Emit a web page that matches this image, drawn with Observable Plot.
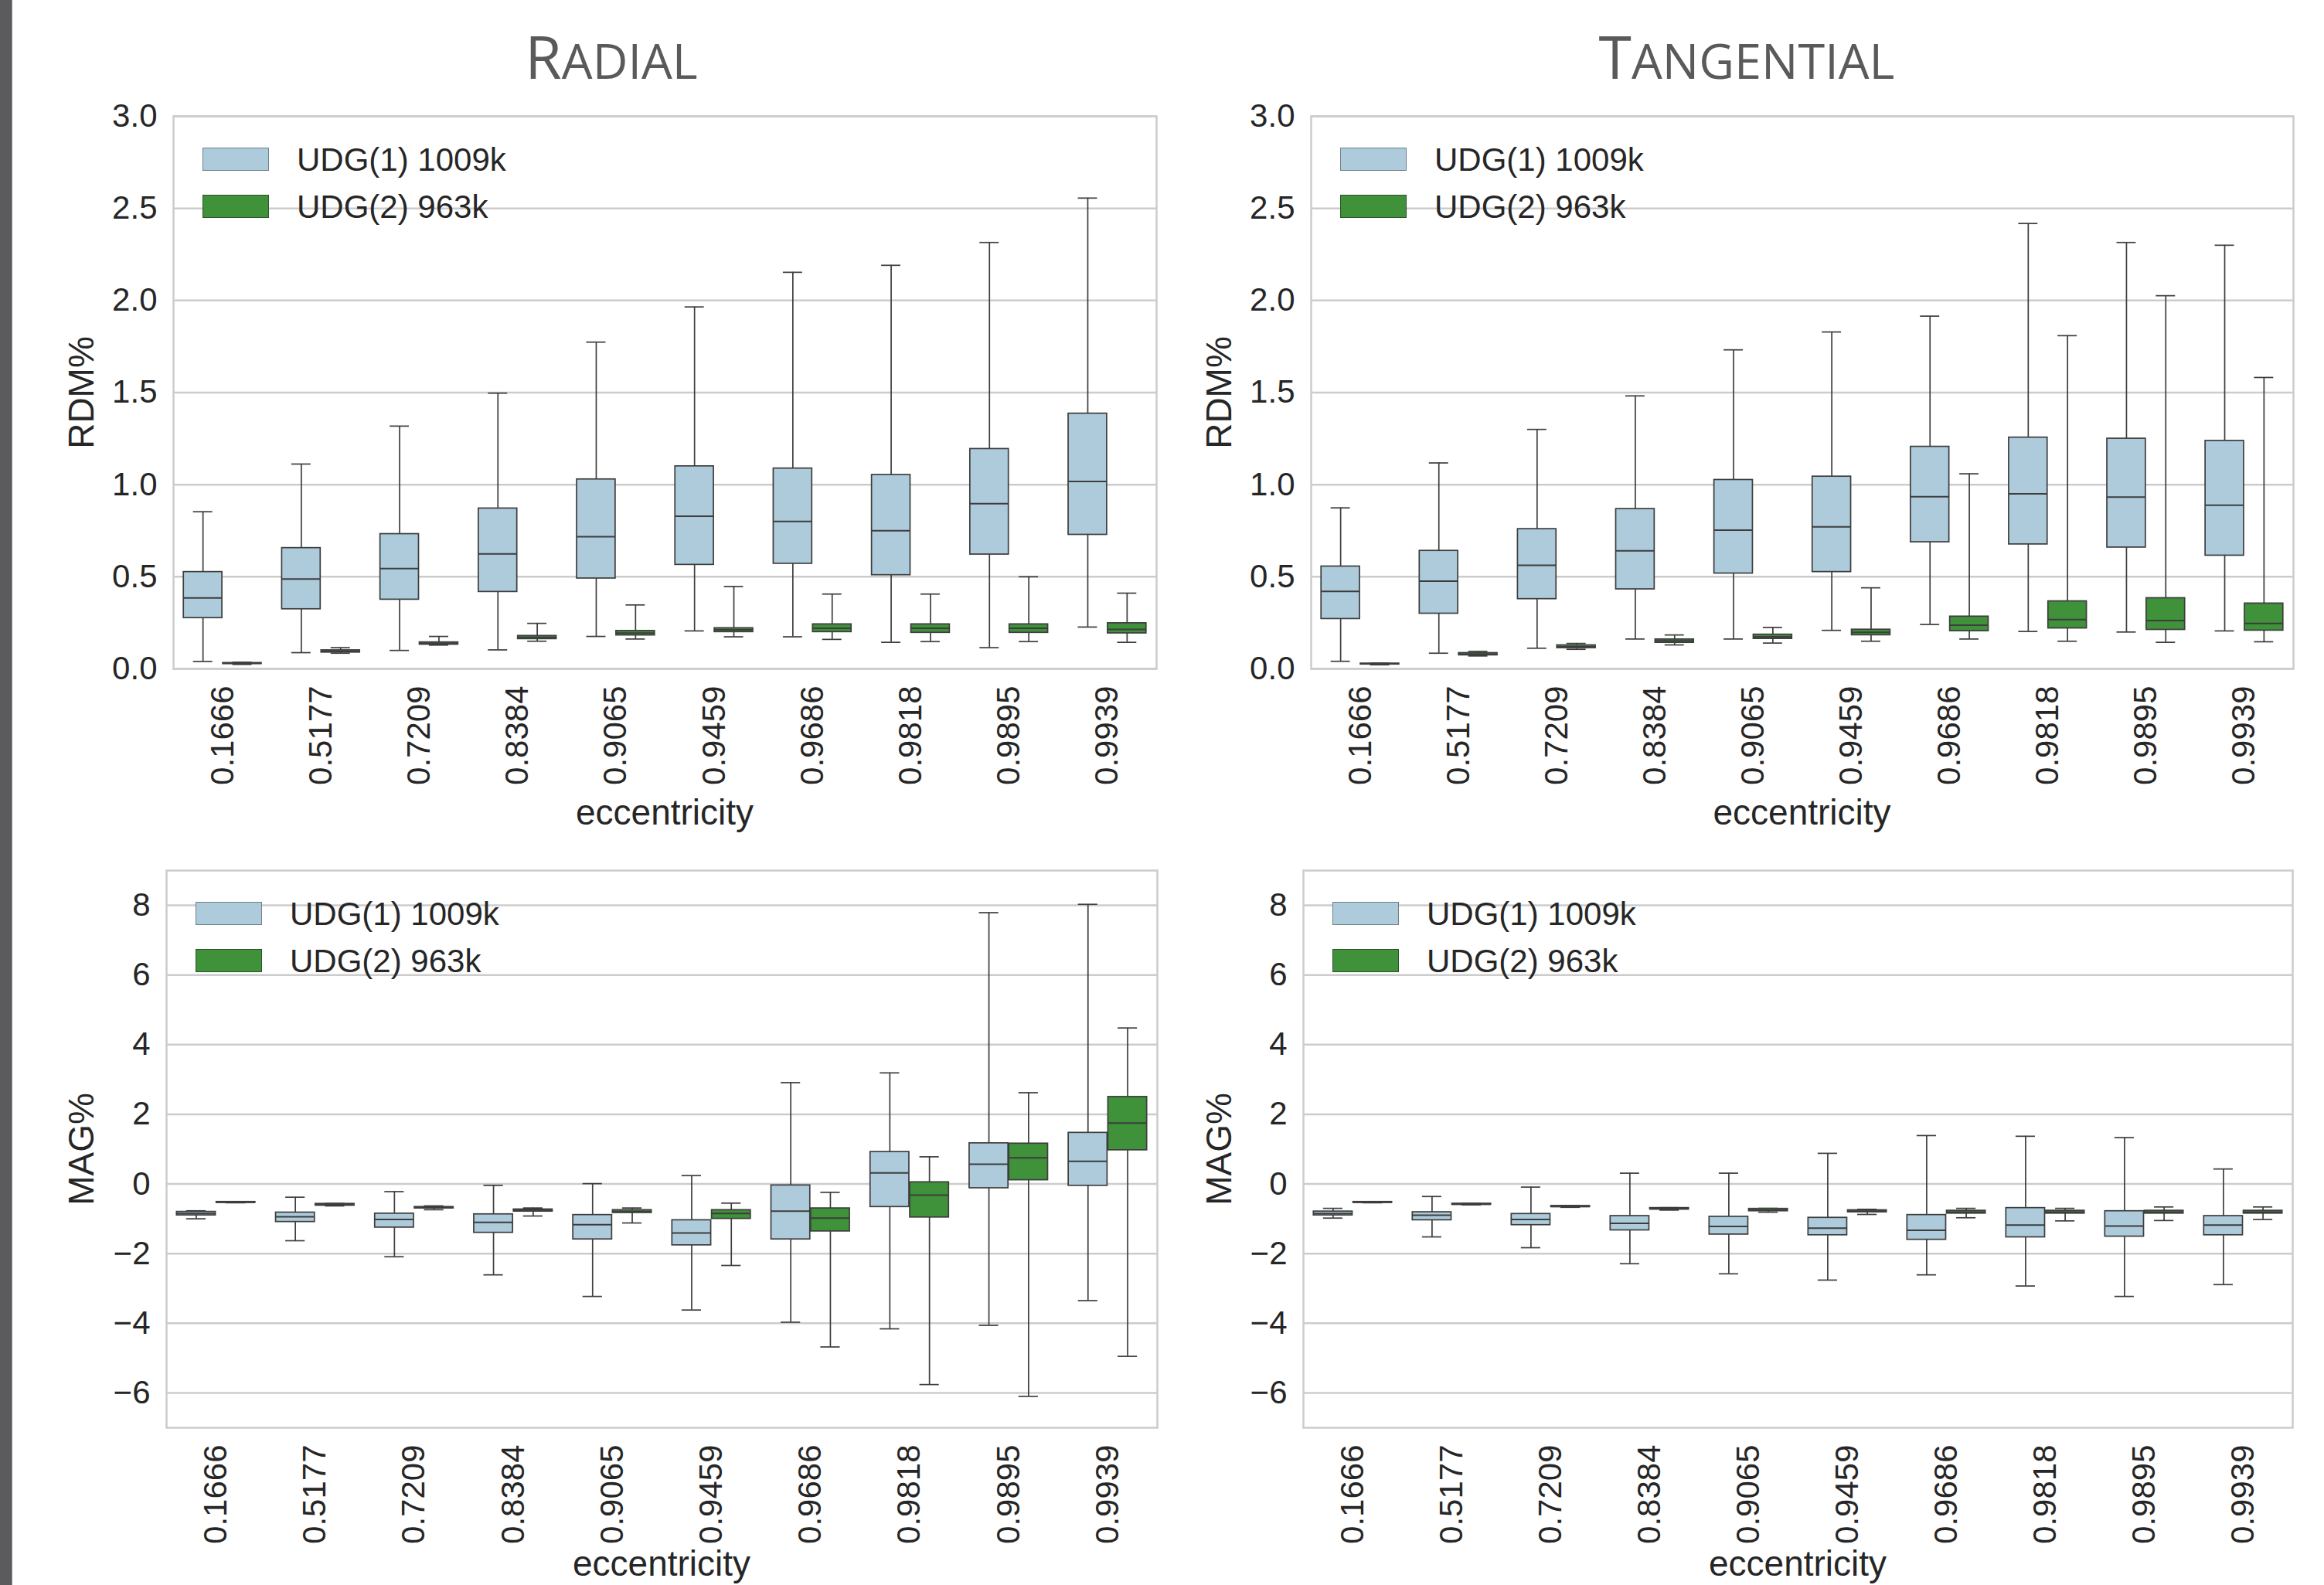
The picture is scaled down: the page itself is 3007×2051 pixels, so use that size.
<!DOCTYPE html>
<html><head><meta charset="utf-8">
<script src="https://cdn.jsdelivr.net/npm/d3@7"></script>
<script src="https://cdn.jsdelivr.net/npm/@observablehq/plot@0.6"></script>
<style>
body{margin:0;background:#fff;}
#page{position:relative;width:3007px;height:2051px;overflow:hidden;background:#fff;font-family:"Liberation Sans",Arial,sans-serif;color:#262626;}
.abs{position:absolute;}
.title{position:absolute;font-family:"Open Sans",sans-serif;color:#5a5a5a;font-size:77px;line-height:80px;white-space:nowrap;transform:translateX(-50%);}
.title .sc{font-size:63px;}
.axlab{position:absolute;font-size:46px;line-height:46px;white-space:nowrap;}
.legtxt{position:absolute;font-size:42px;line-height:42px;white-space:nowrap;}
.sw{position:absolute;width:86px;height:30px;box-sizing:border-box;}
</style></head><body><div id="page"></div>
<script>
// ---------------- data ----------------
const categories = ["0.1666","0.5177","0.7209","0.8384","0.9065","0.9459","0.9686","0.9818","0.9895","0.9939"];
const seriesNames = ["UDG(1) 1009k", "UDG(2) 963k"];
const panelTitles = ["Radial", "Tangential"];
const yLabels = ["RDM%", "MAG%"];
const xLabel = "eccentricity";
const rdmTicks = [0, 0.5, 1.0, 1.5, 2.0, 2.5, 3.0];
const magTicks = [-6, -4, -2, 0, 2, 4, 6, 8];

// each entry: [lower whisker, Q1, median, Q3, upper whisker]
const radialRdmUdg1 = [
  [0.040,0.276,0.385,0.526,0.853],[0.088,0.324,0.488,0.656,1.112],[0.100,0.376,0.544,0.732,1.318],
  [0.103,0.418,0.624,0.871,1.497],[0.176,0.491,0.718,1.029,1.774],[0.206,0.565,0.829,1.100,1.965],
  [0.174,0.571,0.800,1.088,2.153],[0.144,0.509,0.750,1.053,2.191],[0.115,0.621,0.897,1.194,2.315],
  [0.227,0.728,1.018,1.386,2.556]];
const radialRdmUdg2 = [
  [0.024,0.027,0.030,0.032,0.036],[0.085,0.089,0.094,0.101,0.115],[0.129,0.132,0.138,0.144,0.176],
  [0.150,0.162,0.171,0.179,0.247],[0.162,0.182,0.194,0.206,0.347],[0.174,0.200,0.212,0.221,0.447],
  [0.160,0.200,0.220,0.242,0.406],[0.148,0.196,0.220,0.242,0.406],[0.148,0.196,0.220,0.242,0.500],
  [0.144,0.193,0.214,0.248,0.411]];
const tangRdmUdg1 = [
  [0.041,0.271,0.421,0.556,0.874],[0.085,0.300,0.476,0.641,1.118],[0.112,0.379,0.562,0.759,1.300],
  [0.162,0.432,0.641,0.868,1.482],[0.162,0.518,0.753,1.026,1.732],[0.209,0.526,0.771,1.044,1.829],
  [0.241,0.688,0.935,1.206,1.915],[0.203,0.676,0.950,1.256,2.418],[0.200,0.659,0.932,1.250,2.315],
  [0.206,0.615,0.888,1.238,2.300]];
const tangRdmUdg2 = [
  [0.022,0.024,0.027,0.029,0.031],[0.070,0.074,0.080,0.086,0.095],[0.106,0.113,0.120,0.128,0.138],
  [0.130,0.142,0.152,0.160,0.184],[0.140,0.163,0.174,0.186,0.225],[0.150,0.183,0.198,0.213,0.440],
  [0.162,0.205,0.237,0.284,1.059],[0.150,0.220,0.268,0.367,1.809],[0.144,0.212,0.262,0.384,2.026],
  [0.147,0.208,0.246,0.355,1.582]];
const radialMagUdg1 = [
  [-1.00,-0.90,-0.85,-0.80,-0.77],[-1.63,-1.09,-0.94,-0.82,-0.38],[-2.09,-1.25,-1.02,-0.85,-0.22],
  [-2.61,-1.40,-1.10,-0.87,-0.04],[-3.23,-1.59,-1.17,-0.89,0.01],[-3.62,-1.76,-1.41,-1.04,0.24],
  [-3.97,-1.59,-0.78,-0.04,2.91],[-4.16,-0.66,0.32,0.92,3.19],[-4.06,-0.12,0.57,1.17,7.79],
  [-3.35,-0.05,0.65,1.47,8.03]];
const radialMagUdg2 = [
  [-0.54,-0.535,-0.525,-0.515,-0.51],[-0.63,-0.62,-0.59,-0.57,-0.56],[-0.74,-0.70,-0.67,-0.66,-0.63],
  [-0.92,-0.79,-0.75,-0.73,-0.69],[-1.12,-0.83,-0.79,-0.75,-0.69],[-2.34,-1.00,-0.85,-0.75,-0.55],
  [-4.68,-1.36,-0.98,-0.70,-0.24],[-5.76,-0.96,-0.32,0.05,0.78],[-6.10,0.11,0.75,1.16,2.62],
  [-4.95,0.97,1.75,2.50,4.48]];
const tangMagUdg1 = [
  [-0.98,-0.90,-0.85,-0.79,-0.70],[-1.52,-1.04,-0.90,-0.81,-0.36],[-1.83,-1.18,-1.02,-0.86,-0.09],
  [-2.29,-1.33,-1.13,-0.92,0.31],[-2.58,-1.45,-1.22,-0.94,0.31],[-2.76,-1.47,-1.27,-0.97,0.88],
  [-2.61,-1.60,-1.33,-0.89,1.39],[-2.93,-1.53,-1.18,-0.69,1.37],[-3.23,-1.51,-1.21,-0.78,1.33],
  [-2.89,-1.47,-1.18,-0.92,0.43]];
const tangMagUdg2 = [
  [-0.54,-0.535,-0.525,-0.515,-0.51],[-0.60,-0.595,-0.58,-0.565,-0.56],[-0.67,-0.66,-0.646,-0.63,-0.62],
  [-0.75,-0.73,-0.713,-0.69,-0.68],[-0.81,-0.78,-0.754,-0.713,-0.70],[-0.875,-0.81,-0.78,-0.754,-0.727],
  [-0.97,-0.848,-0.81,-0.767,-0.70],[-1.06,-0.848,-0.81,-0.767,-0.70],[-1.05,-0.848,-0.81,-0.767,-0.66],
  [-1.02,-0.848,-0.81,-0.767,-0.66]];

// ---------------- style ----------------
const colors = ["#adcbdb", "#3f913a"];
const edge = "#3d3d3d";
const gridColor = "#cccccc";
const fontFamily = '"Liberation Sans", Arial, sans-serif';

const page = document.getElementById("page");
function el(tag, cls, css, text) {
  const e = document.createElement(tag);
  if (cls) e.className = cls;
  Object.assign(e.style, css || {});
  if (text != null) e.textContent = text;
  page.appendChild(e);
  return e;
}

function toRows(arr) {
  return arr.map((v, i) => ({ecc: categories[i], lo: v[0], q1: v[1], med: v[2], q3: v[3], hi: v[4]}));
}

function panel(cfg) {
  const [fx0, fy0, fx1, fy1] = cfg.frame;
  const mL = 150, mR = 30, mT = 30, mB = 220;
  const W = fx1 - fx0 + mL + mR, H = fy1 - fy0 + mT + mB;
  const bw = (fx1 - fx0) / categories.length;
  const boxW = 0.392 * bw, capW = boxW / 2;
  const lw = 1.7;
  const marks = [Plot.ruleY(cfg.yTicks, {stroke: gridColor, strokeWidth: 2.5})];
  [[toRows(cfg.s1), colors[0], -0.2 * bw], [toRows(cfg.s2), colors[1], 0.2 * bw]].forEach(([rows, fill, off]) => {
    const boxIn = {insetLeft: bw / 2 + off - boxW / 2, insetRight: bw / 2 - off - boxW / 2};
    const capIn = {insetLeft: bw / 2 + off - capW / 2, insetRight: bw / 2 - off - capW / 2};
    marks.push(
      Plot.ruleX(rows, {x: "ecc", y1: "lo", y2: "q1", dx: off, stroke: edge, strokeWidth: lw}),
      Plot.ruleX(rows, {x: "ecc", y1: "q3", y2: "hi", dx: off, stroke: edge, strokeWidth: lw}),
      Plot.tickY(rows, {x: "ecc", y: "lo", ...capIn, stroke: edge, strokeWidth: lw}),
      Plot.tickY(rows, {x: "ecc", y: "hi", ...capIn, stroke: edge, strokeWidth: lw}),
      Plot.barY(rows, {x: "ecc", y1: "q1", y2: "q3", fill, stroke: edge, strokeWidth: lw, ...boxIn}),
      Plot.tickY(rows, {x: "ecc", y: "med", ...boxIn, stroke: edge, strokeWidth: 2})
    );
  });
  marks.push(Plot.frame({stroke: gridColor, strokeWidth: 2.5}));
  const svg = Plot.plot({
    width: W, height: H,
    marginLeft: mL, marginRight: mR, marginTop: mT, marginBottom: mB,
    x: {type: "band", domain: categories, padding: 0, round: false, tickSize: 0, tickPadding: 22, tickRotate: -90, label: null},
    y: {domain: cfg.yDomain, ticks: cfg.yTicks, tickFormat: cfg.yFormat, tickSize: 0, tickPadding: 21, label: null},
    style: {fontSize: "42px", fontFamily, color: "#262626", background: "transparent", overflow: "visible"},
    marks
  });
  const holder = el("div", "abs", {left: (fx0 - mL) + "px", top: (fy0 - mT) + "px", width: W + "px", height: H + "px"});
  holder.appendChild(svg);

  // legend
  seriesNames.forEach((name, i) => {
    el("div", "sw", {left: (fx0 + 38) + "px", top: (fy0 + 41 + 61 * i) + "px", background: colors[i],
      border: "1.5px solid " + (i === 0 ? "#6f7f88" : "#2f4f2f")});
    el("div", "legtxt", {left: (fx0 + 160) + "px", top: (fy0 + 71 + 61 * i - 35.5) + "px"}, name);
  });
  // axis labels
  el("div", "axlab", {left: cfg.yLabX + "px", top: ((fy0 + fy1) / 2) + "px",
    transform: "translate(-50%,-50%) rotate(-90deg)"}, cfg.yLabel);
  el("div", "axlab", {left: ((fx0 + fx1) / 2) + "px", top: cfg.xLabY + "px", transform: "translate(-50%,-50%)"}, xLabel);
}

const fmt1 = d3.format(".1f");
const fmtInt = d3.format("d");
panel({frame: [224, 150, 1496, 865], s1: radialRdmUdg1, s2: radialRdmUdg2, yDomain: [0, 3], yTicks: rdmTicks, yFormat: fmt1, yLabel: yLabels[0], yLabX: 105, xLabY: 1051});
panel({frame: [1696, 150, 2967, 865], s1: tangRdmUdg1, s2: tangRdmUdg2, yDomain: [0, 3], yTicks: rdmTicks, yFormat: fmt1, yLabel: yLabels[0], yLabX: 1577, xLabY: 1051});
panel({frame: [215, 1126, 1497, 1847], s1: radialMagUdg1, s2: radialMagUdg2, yDomain: [-7, 9], yTicks: magTicks, yFormat: fmtInt, yLabel: yLabels[1], yLabX: 105, xLabY: 2023});
panel({frame: [1686, 1126, 2966, 1847], s1: tangMagUdg1, s2: tangMagUdg2, yDomain: [-7, 9], yTicks: magTicks, yFormat: fmtInt, yLabel: yLabels[1], yLabX: 1577, xLabY: 2023});

// titles (small caps rendered as large initial + smaller capitals)
[[panelTitles[0], 791], [panelTitles[1], 2260]].forEach(([t, cx]) => {
  const d = el("div", "title", {left: cx + "px", top: "33px"});
  const a = document.createElement("span"); a.textContent = t[0].toUpperCase();
  const b = document.createElement("span"); b.className = "sc"; b.textContent = t.slice(1).toUpperCase();
  d.appendChild(a); d.appendChild(b);
});

// left page edge bar
el("div", "abs", {left: "0px", top: "0px", width: "15px", height: "2051px", background: "#5b5b5d", borderRight: "1px solid #8e8e8e"});
</script></body></html>
